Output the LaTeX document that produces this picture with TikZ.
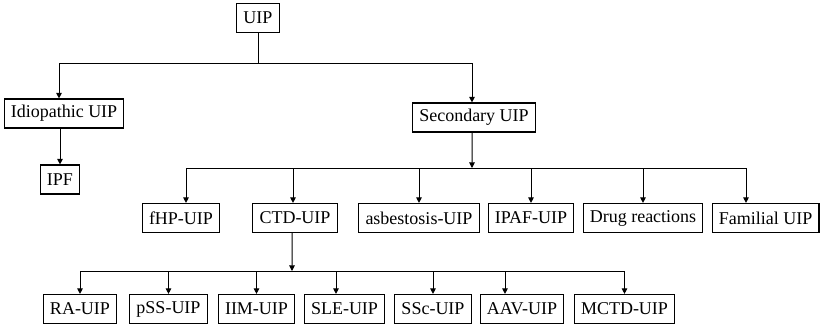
\documentclass[tikz,border=0pt]{standalone}
\usepackage{fontspec}
\setmainfont{Liberation Serif}
\usepackage{tikz}
\usetikzlibrary{arrows.meta}

\begin{document}
\begin{tikzpicture}[
  x=0.6pt, y=-0.6pt,
  >={Triangle[length=3.4pt, width=3.4pt]},
  box/.style={draw, line width=0.7pt, inner xsep=4pt, inner ysep=0pt,
              minimum height=17.4pt, font=\fontsize{10.8}{12}\selectfont},
  link/.style={line width=0.6pt}
]
\useasboundingbox (0,0) rectangle (824,327);

% levels 0 and 1
\node[box] (uip) at (258,18) {UIP};
\node[box] (idio) at (64,113.5) {Idiopathic UIP};
\node[box] (sec) at (474,117.5) {Secondary UIP};
\node[box] (ipf) at (60,179.5) {IPF};

% secondary causes
\node[box] (fhp)  at (181,218) {fHP-UIP};
\node[box] (ctd)  at (295,218) {CTD-UIP};
\node[box] (asb)  at (419,218) {asbestosis-UIP};
\node[box] (ipaf) at (531,218) {IPAF-UIP};
\node[box] (drug) at (643,218) {Drug reactions};
\node[box] (fam)  at (765.5,218) {Familial UIP};

% connective tissue diseases
\node[box] (ra)   at (80,309)    {RA-UIP};
\node[box] (pss)  at (168.5,309) {pSS-UIP};
\node[box] (iim)  at (256.5,309) {IIM-UIP};
\node[box] (sle)  at (344.5,309) {SLE-UIP};
\node[box] (ssc)  at (433,309)   {SSc-UIP};
\node[box] (aav)  at (522,309)   {AAV-UIP};
\node[box] (mctd) at (624.5,309) {MCTD-UIP};

\coordinate (bus1) at (258,63);
\coordinate (bus2) at (472,168);
\coordinate (bus3) at (292,271);

\draw[link] (uip.south) -- (bus1);
\draw[link, ->] (bus1) -| ([xshift=-3pt]idio.north);
\draw[link, ->] (bus1) -| ([xshift=-1.2pt]sec.north);
\draw[link, ->] (ipf.north |- idio.south) -- (ipf.north);

\draw[link, ->] ([xshift=-1.2pt]sec.south) -- (bus2);
\draw[link, ->] (bus2) -| ([xshift=3pt]fhp.north);
\draw[link, ->] (bus2) -| ([xshift=-1.2pt]ctd.north);
\draw[link, ->] (bus2) -| (asb.north);
\draw[link, ->] (bus2) -| (ipaf.north);
\draw[link, ->] (bus2) -| (drug.north);
\draw[link, ->] (bus2) -| ([xshift=-11.7pt]fam.north);

\draw[link, ->] ([xshift=-1.8pt]ctd.south) -- (bus3);
\draw[link, ->] (bus3) -| (ra.north);
\draw[link, ->] (bus3) -| (pss.north);
\draw[link, ->] (bus3) -| (iim.north);
\draw[link, ->] (bus3) -| ([xshift=-5.1pt]sle.north);
\draw[link, ->] (bus3) -| (ssc.north);
\draw[link, ->] (bus3) -| ([xshift=-10.2pt]aav.north);
\draw[link, ->] (bus3) -| (mctd.north);
\end{tikzpicture}
\end{document}
